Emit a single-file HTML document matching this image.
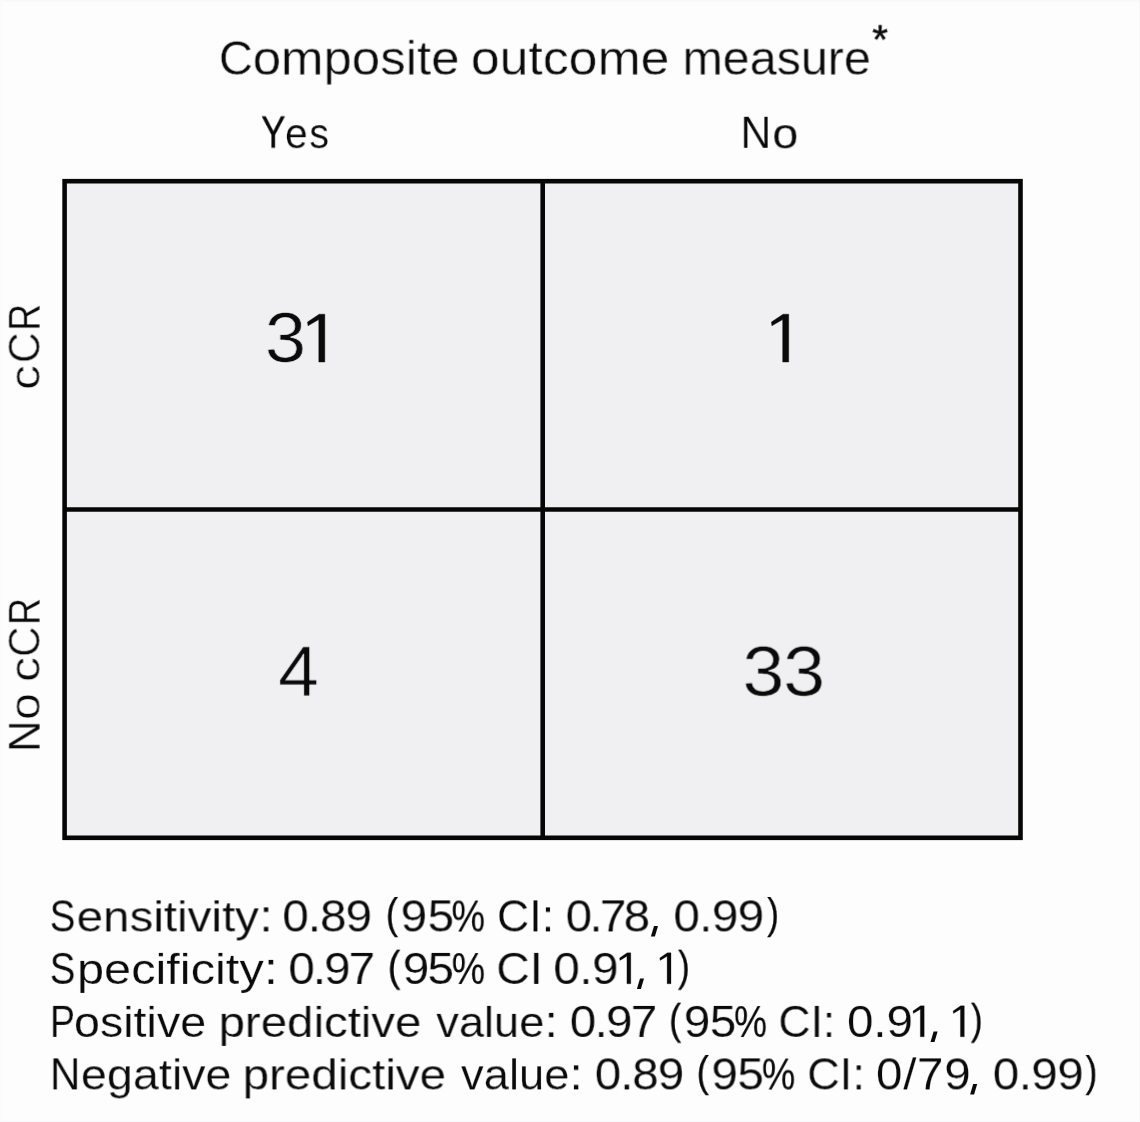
<!DOCTYPE html><html><head><meta charset="utf-8"><title>Confusion matrix</title><style>
html,body{margin:0;padding:0;background:#fdfdfe;}
body{width:1140px;height:1122px;position:relative;overflow:hidden;font-family:"Liberation Sans",sans-serif;color:#0a0a0a;}
.t{position:absolute;left:0;top:0;will-change:transform;white-space:nowrap;line-height:1;transform-origin:0 0;}
svg{position:absolute;left:0;top:0;}
</style></head><body>
<div style="position:absolute;left:0;top:0;width:1140px;height:2px;background:#f9f9fb"></div>
<div style="position:absolute;left:0;top:0;width:2px;height:1122px;background:#f9fbfd"></div>
<div style="position:absolute;right:0;top:0;width:1px;height:1122px;background:#f8f9f6"></div>
<div style="position:absolute;left:0;bottom:0;width:1140px;height:1px;background:#f7f7f9"></div>
<svg width="1140" height="1122" viewBox="0 0 1140 1122">
<rect x="64.60" y="181.20" width="955.90" height="656.60" fill="#f0f0f2" stroke="#060606" stroke-width="4.60"/>
<line x1="542.70" y1="181.20" x2="542.70" y2="837.80" stroke="#060606" stroke-width="4.60"/>
<line x1="64.60" y1="509.50" x2="1020.50" y2="509.50" stroke="#060606" stroke-width="4.60"/>
<path d="M324.80 314.20 L324.80 362.00 L318.80 362.00 L318.80 319.60 L308.00 325.80 L307.50 322.00 L319.20 314.20 Z" fill="#0a0a0a" stroke="#060606" stroke-width="0.40" stroke-linejoin="round"/>
<path d="M788.70 314.20 L788.70 362.00 L782.70 362.00 L782.70 319.60 L771.90 325.80 L771.40 322.00 L783.10 314.20 Z" fill="#0a0a0a" stroke="#060606" stroke-width="0.40" stroke-linejoin="round"/>
<path d="M630.80 952.87 L630.80 983.80 L626.92 983.80 L626.92 956.37 L619.93 960.38 L619.61 957.92 L627.18 952.87 Z" fill="#0a0a0a" stroke="#060606" stroke-width="0.26" stroke-linejoin="round"/>
<path d="M671.00 952.87 L671.00 983.80 L667.12 983.80 L667.12 956.37 L660.13 960.38 L659.81 957.92 L667.38 952.87 Z" fill="#0a0a0a" stroke="#060606" stroke-width="0.26" stroke-linejoin="round"/>
<path d="M924.20 1005.87 L924.20 1036.80 L920.32 1036.80 L920.32 1009.37 L913.33 1013.38 L913.01 1010.92 L920.58 1005.87 Z" fill="#0a0a0a" stroke="#060606" stroke-width="0.26" stroke-linejoin="round"/>
<path d="M964.30 1005.87 L964.30 1036.80 L960.42 1036.80 L960.42 1009.37 L953.43 1013.38 L953.11 1010.92 L960.68 1005.87 Z" fill="#0a0a0a" stroke="#060606" stroke-width="0.26" stroke-linejoin="round"/>
<path d="M654.00 926.10 L658.00 926.10 L654.90 936.50 L650.90 936.50 Z" fill="#0a0a0a"/>
<path d="M640.00 978.60 L644.00 978.60 L640.90 989.00 L636.90 989.00 Z" fill="#0a0a0a"/>
<path d="M933.60 1031.60 L937.60 1031.60 L934.50 1042.00 L930.50 1042.00 Z" fill="#0a0a0a"/>
<path d="M973.20 1084.10 L977.20 1084.10 L974.10 1094.50 L970.10 1094.50 Z" fill="#0a0a0a"/>
</svg>
<div class="t" style="font-size:49.00px;-webkit-text-stroke:0.40px #fdfdfe;transform:translate(218.90px,33.73px) rotate(0.001deg) scaleX(0.9626)">C</div>
<div class="t" style="font-size:49.00px;-webkit-text-stroke:0.40px #fdfdfe;transform:translate(252.72px,33.73px) rotate(0.001deg) scaleX(1.0666)"><span style="font-size:0.975em">omposite</span></div>
<div class="t" style="font-size:49.00px;-webkit-text-stroke:0.40px #fdfdfe;transform:translate(470.83px,33.73px) rotate(0.001deg) scaleX(1.0839)"><span style="font-size:0.975em">outcome</span></div>
<div class="t" style="font-size:49.00px;-webkit-text-stroke:0.40px #fdfdfe;transform:translate(682.47px,33.73px) rotate(0.001deg) scaleX(1.0136)"><span style="font-size:0.975em">measure</span></div>
<div class="t" style="font-size:40.89px;-webkit-text-stroke:0.45px #0a0a0a;transform:translate(872.22px,19.31px) rotate(0.001deg) scaleX(0.9941)">*</div>
<div class="t" style="font-size:44.00px;-webkit-text-stroke:0.30px #0a0a0a;transform:translate(261.11px,110.53px) rotate(0.001deg) scaleX(0.8329)">Y</div>
<div class="t" style="font-size:44.80px;-webkit-text-stroke:0.20px #fdfdfe;transform:translate(285.05px,110.20px) rotate(0.001deg) scaleX(0.9615)"><span style="font-size:0.945em">e</span></div>
<div class="t" style="font-size:44.80px;-webkit-text-stroke:0.20px #fdfdfe;transform:translate(309.37px,110.20px) rotate(0.001deg) scaleX(0.9296)"><span style="font-size:0.945em">s</span></div>
<div class="t" style="font-size:45.10px;-webkit-text-stroke:0.20px #fdfdfe;transform:translate(740.53px,109.80px) rotate(0.001deg) scaleX(0.9442)">N</div>
<div class="t" style="font-size:44.80px;-webkit-text-stroke:0.20px #fdfdfe;transform:translate(772.31px,110.30px) rotate(0.001deg) scaleX(1.1059)"><span style="font-size:0.945em">o</span></div>
<div class="t" style="font-size:70.20px;-webkit-text-stroke:0.70px #f0f0f2;transform:translate(264.82px,303.01px) rotate(0.001deg) scaleX(1.0579)">3</div>
<div class="t" style="font-size:70.20px;-webkit-text-stroke:0.70px #f0f0f2;transform:translate(278.19px,636.77px) rotate(0.001deg) scaleX(1.0447)">4</div>
<div class="t" style="font-size:70.20px;-webkit-text-stroke:0.70px #f0f0f2;letter-spacing:-1.226px;transform:translate(742.39px,636.75px) rotate(0.001deg) scaleX(1.0750)">33</div>
<div class="t" style="font-size:44.00px;-webkit-text-stroke:0.20px #fdfdfe;transform:translate(49.68px,894.40px) rotate(0.001deg) scaleX(0.8764)">S</div>
<div class="t" style="font-size:44.00px;-webkit-text-stroke:0.20px #fdfdfe;transform:translate(76.60px,894.40px) rotate(0.001deg) scaleX(1.1439)"><span style="font-size:0.945em">ensitivity</span>:</div>
<div class="t" style="font-size:44.00px;-webkit-text-stroke:0.15px #fdfdfe;letter-spacing:-0.837px;transform:translate(282.37px,894.42px) rotate(0.001deg) scaleX(1.0800)">0.89</div>
<div class="t" style="font-size:43.10px;-webkit-text-stroke:0.25px #0a0a0a;transform:translate(385.83px,891.98px) rotate(0.001deg) scaleX(0.8546)">(</div>
<div class="t" style="font-size:44.00px;-webkit-text-stroke:0.15px #fdfdfe;letter-spacing:0.612px;transform:translate(400.64px,894.42px) rotate(0.001deg) scaleX(1.0800)">95</div>
<div class="t" style="font-size:44.00px;-webkit-text-stroke:0.10px #0a0a0a;transform:translate(451.51px,894.56px) rotate(0.001deg) scaleX(0.8589)">%</div>
<div class="t" style="font-size:44.00px;-webkit-text-stroke:0.20px #fdfdfe;transform:translate(497.00px,894.40px) rotate(0.001deg) scaleX(1.0143)">CI:</div>
<div class="t" style="font-size:44.00px;-webkit-text-stroke:0.15px #fdfdfe;letter-spacing:-2.453px;transform:translate(565.66px,894.42px) rotate(0.001deg) scaleX(1.0800)">0.78</div>
<div class="t" style="font-size:44.00px;-webkit-text-stroke:0.15px #fdfdfe;letter-spacing:-0.527px;transform:translate(673.45px,894.42px) rotate(0.001deg) scaleX(1.0800)">0.99</div>
<div class="t" style="font-size:43.10px;-webkit-text-stroke:0.25px #0a0a0a;transform:translate(767.18px,891.98px) rotate(0.001deg) scaleX(0.8241)">)</div>
<div class="t" style="font-size:44.00px;-webkit-text-stroke:0.20px #fdfdfe;transform:translate(49.74px,946.90px) rotate(0.001deg) scaleX(0.8738)">S</div>
<div class="t" style="font-size:44.00px;-webkit-text-stroke:0.20px #fdfdfe;transform:translate(76.98px,946.90px) rotate(0.001deg) scaleX(1.1713)"><span style="font-size:0.945em">pecificity</span>:</div>
<div class="t" style="font-size:44.00px;-webkit-text-stroke:0.15px #fdfdfe;letter-spacing:-1.807px;transform:translate(288.39px,946.93px) rotate(0.001deg) scaleX(1.0800)">0.97</div>
<div class="t" style="font-size:43.10px;-webkit-text-stroke:0.25px #0a0a0a;transform:translate(387.68px,944.65px) rotate(0.001deg) scaleX(0.8951)">(</div>
<div class="t" style="font-size:44.00px;-webkit-text-stroke:0.15px #fdfdfe;letter-spacing:-1.539px;transform:translate(402.78px,946.93px) rotate(0.001deg) scaleX(1.0800)">95</div>
<div class="t" style="font-size:44.00px;-webkit-text-stroke:0.10px #0a0a0a;transform:translate(451.72px,947.04px) rotate(0.001deg) scaleX(0.8539)">%</div>
<div class="t" style="font-size:44.00px;-webkit-text-stroke:0.20px #fdfdfe;transform:translate(496.33px,946.90px) rotate(0.001deg) scaleX(1.0525)">CI</div>
<div class="t" style="font-size:44.00px;-webkit-text-stroke:0.15px #fdfdfe;letter-spacing:-0.353px;transform:translate(553.38px,946.93px) rotate(0.001deg) scaleX(1.0800)">0.9</div>
<div class="t" style="font-size:43.10px;-webkit-text-stroke:0.25px #0a0a0a;transform:translate(677.96px,944.65px) rotate(0.001deg) scaleX(0.8281)">)</div>
<div class="t" style="font-size:44.00px;-webkit-text-stroke:0.20px #fdfdfe;transform:translate(50.01px,999.90px) rotate(0.001deg) scaleX(0.8520)">P</div>
<div class="t" style="font-size:44.00px;-webkit-text-stroke:0.20px #fdfdfe;transform:translate(73.95px,999.90px) rotate(0.001deg) scaleX(1.1216)"><span style="font-size:0.945em">ositive</span></div>
<div class="t" style="font-size:44.00px;-webkit-text-stroke:0.20px #fdfdfe;transform:translate(218.55px,999.90px) rotate(0.001deg) scaleX(1.1404)"><span style="font-size:0.945em">predictive</span></div>
<div class="t" style="font-size:44.00px;-webkit-text-stroke:0.20px #fdfdfe;transform:translate(436.36px,999.90px) rotate(0.001deg) scaleX(1.0871)"><span style="font-size:0.945em">value</span>:</div>
<div class="t" style="font-size:44.00px;-webkit-text-stroke:0.15px #fdfdfe;letter-spacing:-1.552px;transform:translate(569.78px,999.93px) rotate(0.001deg) scaleX(1.0800)">0.97</div>
<div class="t" style="font-size:43.10px;-webkit-text-stroke:0.25px #0a0a0a;transform:translate(669.00px,997.65px) rotate(0.001deg) scaleX(0.8556)">(</div>
<div class="t" style="font-size:44.00px;-webkit-text-stroke:0.15px #fdfdfe;letter-spacing:-0.485px;transform:translate(683.82px,999.93px) rotate(0.001deg) scaleX(1.0800)">95</div>
<div class="t" style="font-size:44.00px;-webkit-text-stroke:0.10px #0a0a0a;transform:translate(734.03px,1000.04px) rotate(0.001deg) scaleX(0.8442)">%</div>
<div class="t" style="font-size:44.00px;-webkit-text-stroke:0.20px #fdfdfe;transform:translate(778.40px,999.90px) rotate(0.001deg) scaleX(1.0122)">CI:</div>
<div class="t" style="font-size:44.00px;-webkit-text-stroke:0.15px #fdfdfe;letter-spacing:-0.097px;transform:translate(847.05px,999.93px) rotate(0.001deg) scaleX(1.0800)">0.9</div>
<div class="t" style="font-size:43.10px;-webkit-text-stroke:0.25px #0a0a0a;transform:translate(970.83px,997.65px) rotate(0.001deg) scaleX(0.8290)">)</div>
<div class="t" style="font-size:44.00px;-webkit-text-stroke:0.20px #fdfdfe;transform:translate(49.94px,1052.40px) rotate(0.001deg) scaleX(0.9558)">N</div>
<div class="t" style="font-size:44.00px;-webkit-text-stroke:0.20px #fdfdfe;transform:translate(80.89px,1052.40px) rotate(0.001deg) scaleX(1.1230)"><span style="font-size:0.945em">egative</span></div>
<div class="t" style="font-size:44.00px;-webkit-text-stroke:0.20px #fdfdfe;transform:translate(242.58px,1052.40px) rotate(0.001deg) scaleX(1.1436)"><span style="font-size:0.945em">predictive</span></div>
<div class="t" style="font-size:44.00px;-webkit-text-stroke:0.20px #fdfdfe;transform:translate(461.08px,1052.40px) rotate(0.001deg) scaleX(1.0899)"><span style="font-size:0.945em">value</span>:</div>
<div class="t" style="font-size:44.00px;-webkit-text-stroke:0.15px #fdfdfe;letter-spacing:-0.963px;transform:translate(594.77px,1052.42px) rotate(0.001deg) scaleX(1.0800)">0.89</div>
<div class="t" style="font-size:43.10px;-webkit-text-stroke:0.25px #0a0a0a;transform:translate(696.62px,1049.98px) rotate(0.001deg) scaleX(0.8595)">(</div>
<div class="t" style="font-size:44.00px;-webkit-text-stroke:0.15px #fdfdfe;letter-spacing:-0.364px;transform:translate(711.45px,1052.42px) rotate(0.001deg) scaleX(1.0800)">95</div>
<div class="t" style="font-size:44.00px;-webkit-text-stroke:0.10px #0a0a0a;transform:translate(761.88px,1052.56px) rotate(0.001deg) scaleX(0.8545)">%</div>
<div class="t" style="font-size:44.00px;-webkit-text-stroke:0.20px #fdfdfe;transform:translate(807.23px,1052.40px) rotate(0.001deg) scaleX(1.0261)">CI:</div>
<div class="t" style="font-size:44.00px;-webkit-text-stroke:0.15px #fdfdfe;letter-spacing:0.657px;transform:translate(876.00px,1052.42px) rotate(0.001deg) scaleX(1.0800)">0/79</div>
<div class="t" style="font-size:44.00px;-webkit-text-stroke:0.15px #fdfdfe;letter-spacing:-0.466px;transform:translate(992.77px,1052.42px) rotate(0.001deg) scaleX(1.0800)">0.99</div>
<div class="t" style="font-size:43.10px;-webkit-text-stroke:0.25px #0a0a0a;transform:translate(1085.58px,1049.98px) rotate(0.001deg) scaleX(0.8212)">)</div>
<div class="t" style="font-size:45.00px;-webkit-text-stroke:0.60px #fdfdfe;transform:translate(1.59px,390.04px) rotate(-90deg) scaleX(1.1787)"><span style="font-size:0.945em">c</span></div>
<div class="t" style="font-size:45.00px;-webkit-text-stroke:0.60px #fdfdfe;transform:translate(1.59px,363.16px) rotate(-90deg) scaleX(0.9522)">C</div>
<div class="t" style="font-size:45.00px;-webkit-text-stroke:0.30px #fdfdfe;transform:translate(1.80px,330.74px) rotate(-90deg) scaleX(0.8272)">R</div>
<div class="t" style="font-size:45.00px;-webkit-text-stroke:0.30px #fdfdfe;transform:translate(1.80px,752.06px) rotate(-90deg) scaleX(0.9760)">N</div>
<div class="t" style="font-size:45.00px;-webkit-text-stroke:0.60px #fdfdfe;transform:translate(1.59px,719.99px) rotate(-90deg) scaleX(1.1387)"><span style="font-size:0.945em">o</span></div>
<div class="t" style="font-size:45.00px;-webkit-text-stroke:0.60px #fdfdfe;transform:translate(1.59px,682.13px) rotate(-90deg) scaleX(1.1911)"><span style="font-size:0.945em">c</span></div>
<div class="t" style="font-size:45.00px;-webkit-text-stroke:0.60px #fdfdfe;transform:translate(1.59px,657.01px) rotate(-90deg) scaleX(0.9416)">C</div>
<div class="t" style="font-size:45.00px;-webkit-text-stroke:0.30px #fdfdfe;transform:translate(1.80px,624.99px) rotate(-90deg) scaleX(0.8336)">R</div>
</body></html>
